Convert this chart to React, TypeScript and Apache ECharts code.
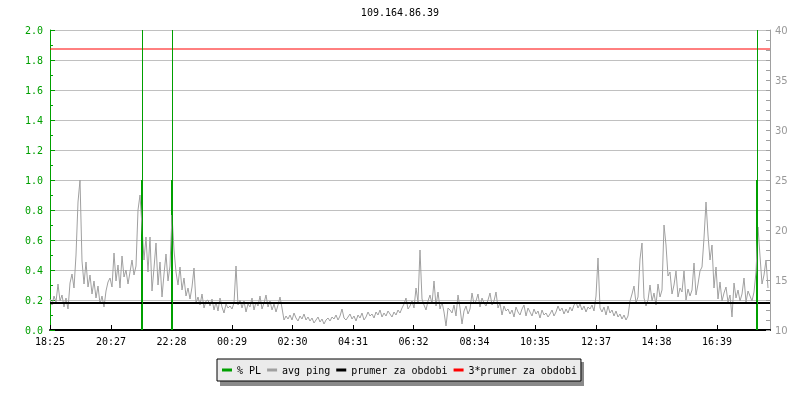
import { useEffect, useRef } from "react";
import * as echarts from "echarts";

const chartTitle = "109.164.86.39";

// x axis: minutes since 18:25
const tickMinutes = [0, 122, 243, 364, 485, 606, 727, 849, 970, 1092, 1213, 1334];
const tickLabels = ["18:25", "20:27", "22:28", "00:29", "02:30", "04:31", "06:32", "08:34", "10:35", "12:37", "14:38", "16:39"];
const totalMinutes = 1440;
const sampleStepMinutes = 4;

// avg ping (ms), one sample every 4 minutes
const pingA = [
  13.1, 12.5, 13.4, 12.8, 14.6, 12.9, 13.5, 12.3, 13.2, 12.1,
  14.7, 15.6, 14.2, 17.5, 22.8, 25.0, 16.9, 14.6, 16.8, 14.3,
  15.5, 13.6, 14.9, 13.2, 14.4, 12.6, 13.4, 12.3, 13.9, 14.8,
  15.2, 14.3, 17.7, 14.9, 16.5, 14.2, 17.4, 15.3, 16.0, 14.6,
  15.8, 17.0, 15.5, 16.4, 22.0, 23.5, 20.3, 17.0, 19.3, 15.8,
  19.3, 13.9, 16.2, 18.7, 14.5, 16.8, 13.3, 15.6, 17.6, 14.9,
  16.4, 21.5, 18.0, 15.8, 14.5, 16.3, 14.0, 15.2, 13.4, 14.2,
  13.1, 14.3, 16.2, 12.7, 13.3, 12.5, 13.6, 12.2, 12.9, 13.0,
  12.4, 13.1, 12.0, 12.8, 11.9, 13.2, 12.3, 11.7, 12.6, 12.2,
  12.4, 12.1, 12.7, 16.4, 12.5, 13.0, 12.2, 12.9, 11.8, 12.6,
  12.3, 13.2, 12.0, 12.8, 12.4, 13.4, 12.1, 12.7, 13.5, 12.3,
  12.9, 12.0, 12.6, 11.8, 12.5, 13.3, 12.2, 11.0, 11.4, 11.1,
];
const pingB = [
  11.5, 11.0, 11.7, 11.2, 10.9, 11.4, 11.1, 11.6, 11.0, 11.3,
  10.9, 11.2, 10.7, 11.0, 11.3, 10.8, 11.1, 10.6, 11.0, 11.2,
  10.9, 11.3, 11.1, 11.5, 11.0, 11.4, 12.1, 11.2, 11.0, 11.3,
  11.6, 11.1, 11.4, 10.9, 11.5, 11.2, 11.7, 11.0, 11.3, 11.8,
  11.4, 11.6, 11.2, 11.8, 11.5, 12.0, 11.3, 11.7, 11.4, 11.9,
  11.6, 11.3, 11.8, 11.5, 12.0, 11.7, 12.2, 12.6, 13.2, 12.1,
  12.4, 12.9, 12.2, 14.2, 12.8, 18.0, 13.1, 12.5, 12.0, 12.9,
  13.5, 12.6, 14.9, 12.4, 13.8, 12.1, 12.8, 11.8, 10.4, 12.2,
  12.0, 11.7, 12.5, 11.4, 13.5, 12.2, 10.6, 11.9, 12.4, 11.6,
  12.1, 13.7, 12.6, 12.9, 13.6, 12.3, 13.2, 12.7, 12.4, 13.0,
  13.7, 12.5, 12.9, 13.8, 12.2, 12.7, 11.5, 12.4, 11.9, 12.1,
  11.6, 12.0, 11.3, 12.3, 11.8, 11.5, 12.1, 12.5, 11.4, 12.2,
];
const pingC = [
  11.8, 11.4, 12.1, 11.6, 11.9, 11.2, 12.0, 11.5, 11.7, 11.3,
  11.6, 12.0, 11.4, 11.8, 12.4, 11.9, 12.2, 11.6, 12.1, 11.7,
  12.3, 11.9, 12.5, 12.8, 12.2, 12.6, 12.0, 12.4, 11.8, 12.3,
  12.1, 12.5, 11.9, 13.4, 17.2, 12.2, 11.8, 12.3, 11.5, 12.4,
  11.7, 12.0, 11.4, 11.9, 11.3, 11.6, 11.1, 11.5, 11.0, 11.4,
  12.9, 13.6, 14.4, 12.7, 13.3, 17.1, 18.7, 13.2, 12.4, 13.0,
  14.5, 12.9, 13.7, 12.5, 14.6, 13.3, 14.0, 20.5, 18.5, 15.4,
  15.8, 13.6, 14.5, 15.9, 13.3, 14.2, 13.8, 15.9, 13.0, 14.1,
  13.4, 14.0, 16.7, 13.5, 14.6, 15.9, 16.3, 19.2, 22.8, 19.5,
  17.0, 18.5, 14.2, 16.3, 13.1, 14.8, 12.9, 13.7, 14.3, 12.8,
  13.5, 11.3, 14.7, 13.2, 14.0, 12.9, 13.6, 15.2, 12.8, 13.9,
  13.4, 12.9, 13.8, 15.8, 20.3, 17.4, 14.6, 15.5, 17.0, 14.2,
];

// % packet loss spikes
const plMinutes = [184, 244, 1414];
const plValues = [1.0, 1.0, 1.0];

const meanPing = 12.7;

const seriesNames = ["% PL", "avg ping", "prumer za obdobi", "3*prumer za obdobi"];
const seriesColors = ["#00a000", "#a0a0a0", "#000000", "#ff0000"];

const MONO = "DejaVu Sans Mono";

export default function App() {
  const ref = useRef<HTMLDivElement>(null);
  useEffect(() => {
    if (!ref.current) return;
    const chart = echarts.init(ref.current, null, { renderer: "svg" });
    const ping = [...pingA, ...pingB, ...pingC];
    const pingData = ping.map((v, i) => [i * sampleStepMinutes, v]);
    const plData = plMinutes.map((m, i) => [m, plValues[i]]);

    chart.setOption({
      animation: false,
      title: {
        text: chartTitle,
        left: "center",
        top: 2,
        textStyle: { fontFamily: MONO, fontSize: 10, fontWeight: "normal", color: "#000" },
      },
      grid: { left: 50, right: 30, top: 30, bottom: 70, containLabel: false },
      legend: {
        data: seriesNames,
        left: 217,
        top: 359,
        padding: [6, 4, 6, 5],
        backgroundColor: "#ebebeb",
        borderColor: "#000",
        borderWidth: 1,
        icon: "rect",
        itemWidth: 10,
        itemHeight: 3,
        itemGap: 6,
        selectedMode: false,
        textStyle: { fontFamily: MONO, fontSize: 10, color: "#000" },
        z: 10,
      },
      graphic: [
        {
          type: "rect",
          left: 220,
          top: 362,
          shape: { width: 364, height: 24 },
          style: { fill: "#8a8a8a" },
          z: 0,
        },
      ],
      xAxis: {
        type: "value",
        min: 0,
        max: totalMinutes,
        axisLine: { show: true, lineStyle: { color: "#000", width: 2 } },
        axisTick: {
          show: true,
          inside: true,
          length: 5,
          customValues: tickMinutes,
          lineStyle: { color: "#000", width: 1 },
        },
        axisLabel: {
          customValues: tickMinutes,
          formatter: (v: number) => {
            const i = tickMinutes.indexOf(Math.round(v));
            return i >= 0 ? tickLabels[i] : "";
          },
          fontFamily: MONO,
          fontSize: 10,
          color: "#000",
          margin: 6,
        },
        splitLine: { show: false },
      },
      yAxis: [
        {
          type: "value",
          min: 0,
          max: 2,
          interval: 0.2,
          position: "left",
          axisLine: { show: true, lineStyle: { color: "#00a000", width: 1 } },
          axisTick: { show: true, inside: true, length: 5, lineStyle: { color: "#00a000" } },
          minorTick: { show: true, splitNumber: 2, length: 3, lineStyle: { color: "#00a000" } },
          axisLabel: {
            color: "#00a000",
            fontFamily: MONO,
            fontSize: 10,
            margin: 7,
            formatter: (v: number) => v.toFixed(1),
          },
          splitLine: { show: true, lineStyle: { color: "#c0c0c0", width: 1 } },
        },
        {
          type: "value",
          min: 10,
          max: 40,
          interval: 5,
          position: "right",
          axisLine: { show: true, lineStyle: { color: "#a0a0a0", width: 1 } },
          axisTick: { show: true, inside: true, length: 4, lineStyle: { color: "#a0a0a0" } },
          minorTick: { show: true, splitNumber: 5, length: 4, lineStyle: { color: "#a0a0a0" } },
          axisLabel: { color: "#999", fontFamily: "DejaVu Sans", fontSize: 10, margin: 5 },
          splitLine: { show: false },
        },
      ],
      series: [
        {
          name: seriesNames[0],
          type: "bar",
          yAxisIndex: 0,
          barWidth: 2,
          color: seriesColors[0],
          data: plData,
          markLine: {
            silent: true,
            symbol: ["none", "none"],
            label: { show: false },
            lineStyle: { color: seriesColors[0], width: 1, type: "solid" },
            data: plMinutes.map((m) => ({ xAxis: m })),
          },
        },
        {
          name: seriesNames[1],
          type: "line",
          yAxisIndex: 1,
          showSymbol: false,
          color: seriesColors[1],
          lineStyle: { color: seriesColors[1], width: 1 },
          data: pingData,
        },
        {
          name: seriesNames[2],
          type: "line",
          yAxisIndex: 1,
          showSymbol: false,
          color: seriesColors[2],
          lineStyle: { color: seriesColors[2], width: 2 },
          data: [[0, meanPing], [totalMinutes, meanPing]],
        },
        {
          name: seriesNames[3],
          type: "line",
          yAxisIndex: 1,
          showSymbol: false,
          color: seriesColors[3],
          lineStyle: { color: seriesColors[3], width: 1 },
          data: [[0, 3 * meanPing], [totalMinutes, 3 * meanPing]],
        },
      ],
    });
    return () => chart.dispose();
  }, []);
  return <div ref={ref} style={{ position: "fixed", left: 0, top: 0, width: 800, height: 400 }} />;
}
